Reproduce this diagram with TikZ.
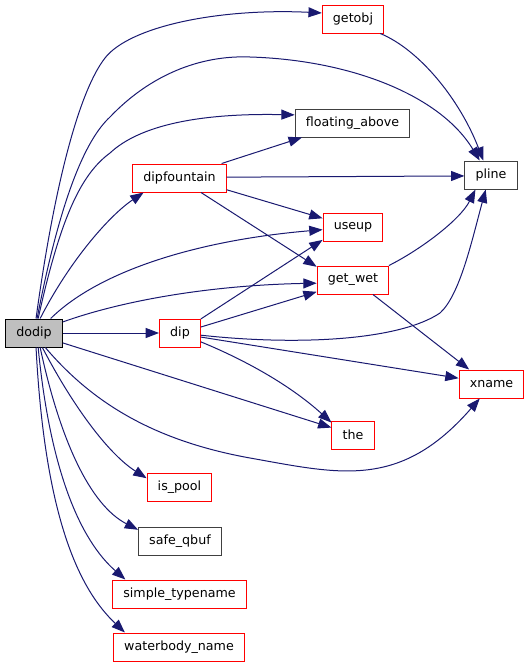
\documentclass[tikz,border=0pt]{standalone}
\usepackage{fontspec}
\setmainfont{DejaVu Sans}
\usetikzlibrary{arrows.meta}

\definecolor{callblue}{HTML}{191970}
\definecolor{linkred}{HTML}{FF0000}
\definecolor{rootgray}{HTML}{BFBFBF}

\tikzset{
  fn/.style={draw=linkred, fill=white, line width=0.75pt, minimum height=21pt,
    inner xsep=8pt, font=\fontsize{9.5}{11}\selectfont},
  fnplain/.style={fn, draw=black!75},
  fnroot/.style={fn, draw=black, fill=rootgray},
  call/.style={draw=callblue, line width=0.75pt,
    -{Triangle[length=10pt,width=7.5pt,fill=callblue]}}
}

\begin{document}
\begin{tikzpicture}[x=0.75pt, y=-0.75pt]
  \useasboundingbox (0,0) rectangle (531,668);
  % Functions
  \node[fnroot] (dodip) at (34,333) {dodip};
  \node[fn] (dip) at (180,333) {dip};
  \node[fn] (dipfountain) at (179.5,178) {dipfountain};
  \node[fn] (getobj) at (353,19) {getobj};
  \node[fnplain] (floating) at (352.5,123) {floating\_above};
  \node[fnplain] (pline) at (491,175) {pline};
  \node[fn] (useup) at (353,227) {useup};
  \node[fn] (getwet) at (353,280) {get\_wet};
  \node[fn] (xname) at (491.5,384) {xname};
  \node[fn] (the) at (353,435) {the};
  \node[fn] (ispool) at (179.5,487) {is\_pool};
  \node[fnplain] (safeqbuf) at (180,541) {safe\_qbuf};
  \node[fn] (simpletype) at (179.5,594) {simple\_typename};
  \node[fn] (waterbody) at (179,647) {waterbody\_name};
  % Calls from dodip, upper side
  \draw[call] (dodip.82) .. controls (55,180) and (80,90) .. (105,58)
    .. controls (130,26) and (220,8) .. (getobj.169);
  \draw[call] (dodip.78) .. controls (60,200) and (85,140) .. (110,117)
    .. controls (150,75) and (200,55) .. (250,57)
    .. controls (350,60) and (440,95) .. (pline.128);
  \draw[call] (dodip.74) .. controls (60,220) and (80,175) .. (110,153)
    .. controls (140,125) and (200,113) .. (floating.172);
  \draw[call] (dodip.67) .. controls (70,260) and (110,215) .. (dipfountain.202);
  \draw[call] (dodip.41) .. controls (100,270) and (200,240) .. (useup.185);
  \draw[call] (dodip.21) .. controls (130,298) and (220,285) .. (getwet.185);
  \draw[call] (dodip) -- (dip);
  % Calls from dodip, lower side
  \draw[call] (dodip.-19) -- (the.161);
  \draw[call] (dodip.-52) .. controls (90,400) and (150,440) .. (250,458)
    .. controls (340,474) and (400,490) .. (xname.231);
  \draw[call] (dodip.-60) .. controls (75,410) and (110,455) .. (ispool.165);
  \draw[call] (dodip.-67) .. controls (60,440) and (90,505) .. (safeqbuf.165);
  \draw[call] (dodip.-74) .. controls (50,470) and (80,540) .. (simpletype.165);
  \draw[call] (dodip.-82) .. controls (45,520) and (80,590) .. (waterbody.165);
  % Calls from dipfountain
  \draw[call] (dipfountain.19) -- (floating.196);
  \draw[call] (dipfountain.1) -- (pline.182);
  \draw[call] (dipfountain.-14) -- (useup.164);
  \draw[call] (dipfountain.-34) -- (getwet.160);
  % Calls from dip
  \draw[call] (dip.34) -- (useup.203);
  \draw[call] (dip.16) -- (getwet.198);
  \draw[call] (dip.-6) .. controls (300,346) and (400,340) .. (440,313)
    .. controls (460,295) and (472,240) .. (pline.250);
  \draw[call] (dip.-11) -- (xname.170);
  \draw[call] (dip.-23) .. controls (245,360) and (290,385) .. (the.150);
  % Other calls
  \draw[call] (getobj.-28) .. controls (420,50) and (460,100) .. (pline.118);
  \draw[call] (getwet.22) .. controls (420,250) and (460,220) .. (pline.223);
  \draw[call] (getwet.-36) -- (xname.147);
\end{tikzpicture}
\end{document}
